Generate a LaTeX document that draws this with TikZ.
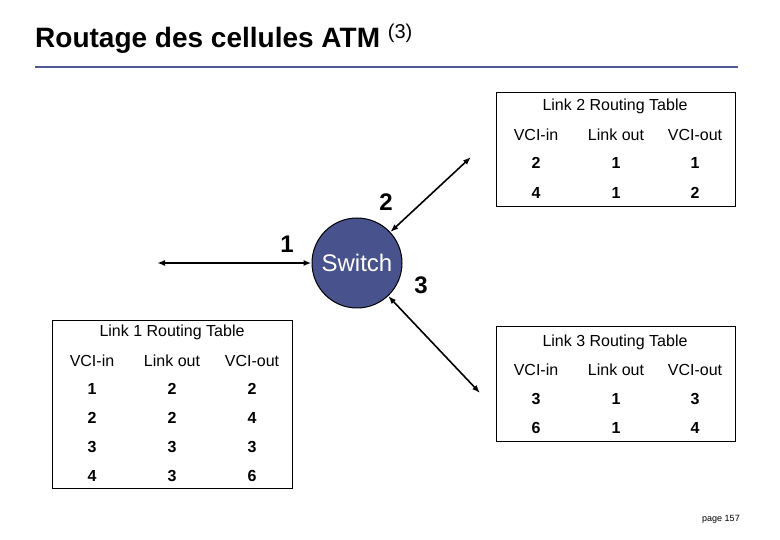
\documentclass[tikz,border=0pt]{standalone}
\usepackage{fontspec}
\setmainfont{Liberation Sans}
\usetikzlibrary{arrows.meta}
\begin{document}
\begin{tikzpicture}[x=1pt,y=-1pt,
  tbox/.style={draw,line width=1.4pt},
  hdr/.style={font=\fontsize{16}{18}\selectfont},
  num/.style={font=\bfseries\fontsize{16}{18}\selectfont},
  lbl/.style={font=\bfseries\fontsize{24}{26}\selectfont},
  link/.style={line width=1.6pt,{Latex[length=8pt]}-{Latex[length=8pt]}}]
\useasboundingbox (0,0) rectangle (780,540);
\node[anchor=base west,inner sep=0,font=\bfseries\fontsize{28}{32}\selectfont] (title) at (35,48) {Routage des cellules ATM \textsuperscript{\normalfont\fontsize{20}{22}\selectfont(3)}};
\draw[line width=2.2pt,color={rgb,255:red,80;green,90;blue,150}] (35,67) -- (738,67);
\node[circle,draw,line width=1pt,fill={rgb,255:red,72;green,82;blue,140},minimum size=90pt,text=white,font=\fontsize{24}{26}\selectfont,inner sep=0] (sw) at (357,263) {Switch};
\coordinate (e1) at (157,263);
\coordinate (e2) at (471,157);
\coordinate (e3) at (480,393);
\draw[link] (e1) -- (sw);
\draw[link] (sw) -- (e2);
\draw[link] (sw) -- (e3);
\node[lbl] (l1) at (287,244) {1};
\node[lbl] (l2) at (386,202) {2};
\node[lbl] (l3) at (421,285) {3};
% Table 2
\node[tbox,minimum width=239pt,minimum height=114pt,anchor=north west] (t2) at (496,92) {};
\node[hdr] (t2h) at (615,106) {Link 2 Routing Table};
\node[hdr] at (536,135) {VCI-in}; \node[hdr] at (616,135) {Link out}; \node[hdr] at (695,135) {VCI-out};
\node[num] at (536,163) {2}; \node[num] at (616,163) {1}; \node[num] at (695,163) {1};
\node[num] at (536,193) {4}; \node[num] at (616,193) {1}; \node[num] at (695,193) {2};
% Table 3
\node[tbox,minimum width=239pt,minimum height=115pt,anchor=north west] (t3) at (496,326) {};
\node[hdr] (t3h) at (615,342) {Link 3 Routing Table};
\node[hdr] at (536,370) {VCI-in}; \node[hdr] at (616,370) {Link out}; \node[hdr] at (695,370) {VCI-out};
\node[num] at (536,399) {3}; \node[num] at (616,399) {1}; \node[num] at (695,399) {3};
\node[num] at (536,428) {6}; \node[num] at (616,428) {1}; \node[num] at (695,428) {4};
% Table 1
\node[tbox,minimum width=240pt,minimum height=168pt,anchor=north west] (t1) at (52,320) {};
\node[hdr] (t1h) at (172,332) {Link 1 Routing Table};
\node[hdr] at (92,361) {VCI-in}; \node[hdr] at (172,361) {Link out}; \node[hdr] at (252,361) {VCI-out};
\node[num] at (92,389) {1}; \node[num] at (172,389) {2}; \node[num] at (252,389) {2};
\node[num] at (92,418) {2}; \node[num] at (172,418) {2}; \node[num] at (252,418) {4};
\node[num] at (92,447) {3}; \node[num] at (172,447) {3}; \node[num] at (252,447) {3};
\node[num] at (92,476) {4}; \node[num] at (172,476) {3}; \node[num] at (252,476) {6};
\node[font=\fontsize{9}{10}\selectfont] (pg) at (721,519) {page 157};
\end{tikzpicture}
\end{document}
